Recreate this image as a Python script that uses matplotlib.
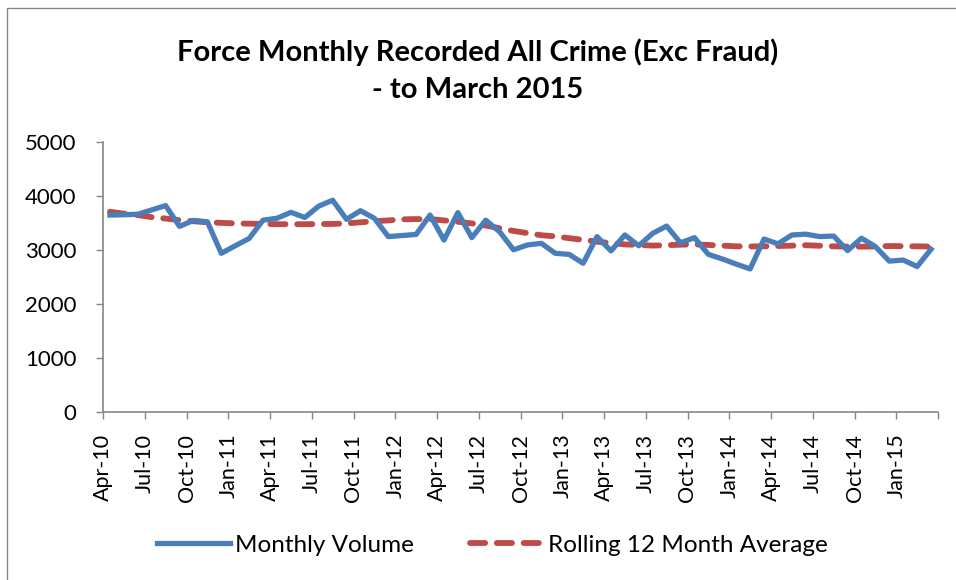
import matplotlib
matplotlib.use("Agg")
import matplotlib.pyplot as plt
from matplotlib.patches import Rectangle

plt.rcParams["font.family"] = ["Lato", "DejaVu Sans"]

# Apr-10 .. Mar-15, one value per month
months = [f"{m}-{y:02d}" for y in range(10, 16)
          for m in ["Jan", "Feb", "Mar", "Apr", "May", "Jun",
                    "Jul", "Aug", "Sep", "Oct", "Nov", "Dec"]][3:63]

monthly_volume = [
    3645, 3650, 3660, 3740, 3820, 3435, 3545, 3520, 2935, 3075,
    3210, 3550, 3585, 3695, 3600, 3810, 3920, 3565, 3725, 3585,
    3245, 3265, 3285, 3645, 3180, 3690, 3225, 3550, 3335, 3000,
    3090, 3120, 2935, 2915, 2750, 3245, 2980, 3275, 3075, 3305,
    3440, 3130, 3225, 2915, 2830, 2735, 2645, 3200, 3110, 3275,
    3290, 3245, 3255, 2985, 3215, 3060, 2790, 2810, 2690, 3010,
]

rolling_avg = [
    3705, 3670, 3645, 3605, 3580, 3550, 3530, 3510, 3500, 3490,
    3485, 3480, 3475, 3475, 3475, 3478, 3480, 3490, 3510, 3530,
    3545, 3565, 3570, 3570, 3545, 3520, 3490, 3450, 3400, 3350,
    3310, 3270, 3250, 3215, 3185, 3150, 3125, 3100, 3090, 3078,
    3085, 3095, 3100, 3090, 3077, 3065, 3062, 3064, 3070, 3077,
    3085, 3075, 3064, 3060, 3058, 3062, 3070, 3067, 3064, 3060,
]

BLUE = "#4A7EBB"
RED = "#BE4B48"
AXIS = "#868686"

fig = plt.figure(figsize=(9.56, 5.8), dpi=100)
ax = fig.add_axes([103 / 956, 1 - 411.5 / 580, 835 / 956, 269.5 / 580])

# chart-area border (Excel style), right and bottom run off the image
fig.patches.append(Rectangle((7 / 956, -0.02), 1.0, 1 - 8 / 580 + 0.02,
                             transform=fig.transFigure, fill=False,
                             edgecolor=AXIS, linewidth=1.0))

x = [i + 0.5 for i in range(len(months))]
ax.plot(x, monthly_volume, color=BLUE, linewidth=3.8, solid_joinstyle="round",
        label="Monthly Volume", zorder=3)
ax.plot(x, rolling_avg, color=RED, linewidth=4.2, linestyle=(0, (2.6, 2.0)),
        dash_capstyle="round", label="Rolling 12 Month Average", zorder=2)

ax.set_xlim(0, len(months))
ax.set_ylim(0, 5000)
ax.set_yticks(range(0, 5001, 1000))
ax.set_xticks(range(0, len(months) + 1, 3))
ax.set_xticklabels(months[::3] + [""], rotation=90, fontsize=15.5)
ax.tick_params(axis="y", labelsize=16, length=5, color=AXIS, width=1, pad=14)
ax.tick_params(axis="x", length=5, color=AXIS, width=1, pad=11)

for side in ["top", "right"]:
    ax.spines[side].set_visible(False)
for side in ["left", "bottom"]:
    ax.spines[side].set_color(AXIS)
    ax.spines[side].set_linewidth(1.2)

fig.text(0.5, 1 - 52 / 580, "Force Monthly Recorded All Crime (Exc Fraud)",
         ha="center", va="center", fontsize=21, fontweight="bold")
fig.text(0.5, 1 - 90 / 580, "- to March 2015",
         ha="center", va="center", fontsize=21, fontweight="bold")

fig.legend(loc="center", bbox_to_anchor=(0.515, 1 - 545 / 580), ncol=2,
           frameon=False, fontsize=17.5, handlelength=3.0, columnspacing=2.3,
           handletextpad=0.2)

fig.savefig("out.png", dpi=100, facecolor="white")
